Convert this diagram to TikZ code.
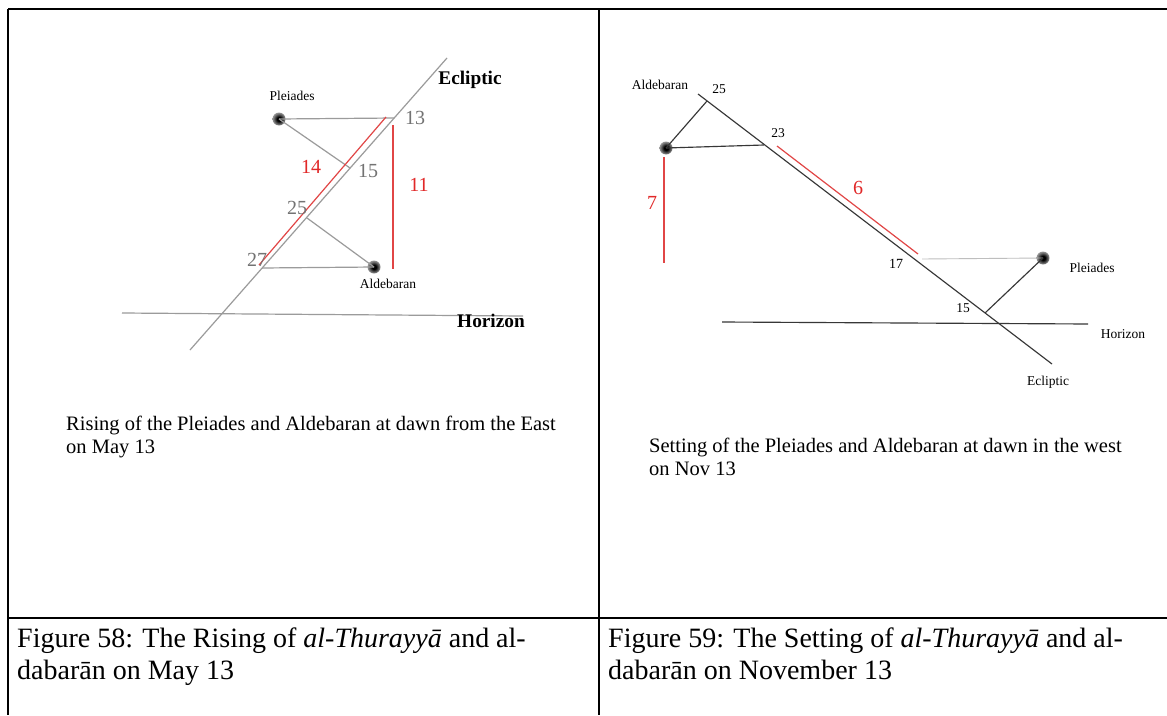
\documentclass[tikz,border=0pt]{standalone}
\usepackage{fontspec}
\setmainfont{Liberation Serif}
\definecolor{lgray}{RGB}{155,155,155}
\definecolor{ngray}{RGB}{115,115,115}
\definecolor{myred}{RGB}{225,40,40}
\definecolor{redline}{RGB}{225,70,70}
\definecolor{dgray}{RGB}{55,55,55}
\definecolor{pgray}{RGB}{190,190,190}
\pgfdeclareradialshading{starglow}{\pgfpoint{0bp}{0bp}}{color(0bp)=(black); color(8bp)=(black); color(22bp)=(black!50); color(38bp)=(black!12); color(50bp)=(white)}
\tikzset{
  frame/.style={draw=black, line width=2pt},
  lline/.style={draw=lgray, line width=1.2pt},
  rline/.style={draw=dgray, line width=1.15pt},
  paleline/.style={draw=pgray, line width=0.9pt},
  redl/.style={draw=redline, line width=1.2pt},
  stardot/.style={circle, inner sep=0pt, minimum size=13pt, shading=starglow},
  txt/.style={inner sep=0pt, text=black},
  fs/.style={font=\fontsize{#1}{#1}\selectfont},
  bfs/.style={font=\fontsize{#1}{#1}\selectfont\bfseries},
  num/.style={inner sep=0pt, text=ngray, font=\fontsize{20}{20}\selectfont},
  rnum/.style={inner sep=0pt, text=myred, font=\fontsize{20}{20}\selectfont},
  figcap/.style={inner sep=0pt, anchor=base west, font=\fontsize{28}{28}\selectfont},
  incap/.style={inner sep=0pt, anchor=base west, font=\fontsize{20.5}{20.5}\selectfont},
}
\begin{document}
\begin{tikzpicture}[x=1pt,y=-1pt]
\useasboundingbox (0,0) rectangle (1167,715);
\fill[white] (0,0) rectangle (1167,715);
% table frame
\coordinate (tl) at (8,9); \coordinate (tr) at (1167,9);
\coordinate (tm) at (599,9); \coordinate (bl) at (8,715); \coordinate (bm) at (599,715);
\coordinate (ml) at (8,618); \coordinate (mr) at (1167,618);
\draw[frame] (tl) -- (tr);
\draw[frame] (tl) -- (bl);
\draw[frame] (tm) -- (bm);
\draw[frame] (ml) -- (mr);

% ---------- left diagram ----------
\node[stardot] (pl) at (279,119) {};
\node[stardot] (al) at (374,267) {};
\coordinate (e1) at (190,350); \coordinate (e2) at (447,58);
\coordinate (h1) at (122,313); \coordinate (h2) at (523,316);
\coordinate (p13) at (394,118); \coordinate (p15) at (350,168);
\coordinate (p25) at (307,218); \coordinate (p27) at (262,268);
\coordinate (r1) at (259,265); \coordinate (r2) at (386,117);
\coordinate (v1) at (393,125); \coordinate (v2) at (393,269);
\draw[lline] (e1) -- (e2);
\draw[lline] (h1) -- (h2);
\draw[lline] (pl.center) -- (p13);
\draw[lline] (pl.center) -- (p15);
\draw[lline] (p25) -- (al.center);
\draw[lline] (p27) -- (al.center);
\draw[redl] (r1) -- (r2);
\draw[redl] (v1) -- (v2);
\node[txt, fs=13.5] (lpl) at (292,96) {Pleiades};
\node[txt, bfs=19.3] (lec) at (470,80) {Ecliptic};
\node[num] (l13) at (415,118) {13};
\node[rnum] (l14) at (311,167) {14};
\node[num] (l15) at (368,171) {15};
\node[rnum] (l11) at (419,185) {11};
\node[num] (l25) at (297,208) {25};
\node[num] (l27) at (257,260) {27};
\node[txt, fs=13.5] (lal) at (388,284) {Aldebaran};
\node[txt, bfs=19.3] (lho) at (491,321) {Horizon};
\node[incap] (lc1) at (66,430) {Rising of the Pleiades and Aldebaran at dawn from the East};
\node[incap] (lc2) at (66,453) {on May 13};

% ---------- right diagram ----------
\node[stardot] (al2) at (666,148) {};
\node[stardot] (pl2) at (1043,258) {};
\coordinate (f1) at (698,94); \coordinate (f2) at (1052,364);
\coordinate (g1) at (722,322); \coordinate (g2) at (1088,324);
\coordinate (q25) at (707,101); \coordinate (q23) at (764,145);
\coordinate (q17) at (922,259); \coordinate (q15) at (985,313);
\coordinate (s1) at (777,146); \coordinate (s2) at (918,254);
\coordinate (w1) at (664,157); \coordinate (w2) at (664,263);
\draw[rline] (f1) -- (f2);
\draw[rline] (g1) -- (g2);
\draw[rline] (al2.center) -- (q25);
\draw[rline] (al2.center) -- (q23);
\draw[paleline] (q17) -- (pl2.center);
\draw[rline] (pl2.center) -- (q15);
\draw[redl] (s1) -- (s2);
\draw[redl] (w1) -- (w2);
\node[txt, fs=13.5] (ral) at (660,85) {Aldebaran};
\node[txt, fs=13.5] (r25) at (719,89) {25};
\node[txt, fs=13.5] (r23) at (778,133) {23};
\node[rnum] (r6) at (858,188) {6};
\node[rnum] (r7) at (652,203) {7};
\node[txt, fs=14] (r17) at (896,264) {17};
\node[txt, fs=13.5] (rpl) at (1092,268) {Pleiades};
\node[txt, fs=13.5] (r15) at (963,308) {15};
\node[txt, fs=13.5] (rho) at (1123,334) {Horizon};
\node[txt, fs=13.5] (rec) at (1048,382) {Ecliptic};
\node[incap] (rc1) at (649,452) {Setting of the Pleiades and Aldebaran at dawn in the west};
\node[incap] (rc2) at (649,475) {on Nov 13};

% ---------- captions ----------
\node[figcap] (c1a) at (17,647) {Figure 58: The Rising of \textit{al-Thurayyā} and al-};
\node[figcap] (c1b) at (17,679) {dabarān on May 13};
\node[figcap] (c2a) at (608,647) {Figure 59: The Setting of \textit{al-Thurayyā} and al-};
\node[figcap] (c2b) at (608,679) {dabarān on November 13};
\end{tikzpicture}
\end{document}
